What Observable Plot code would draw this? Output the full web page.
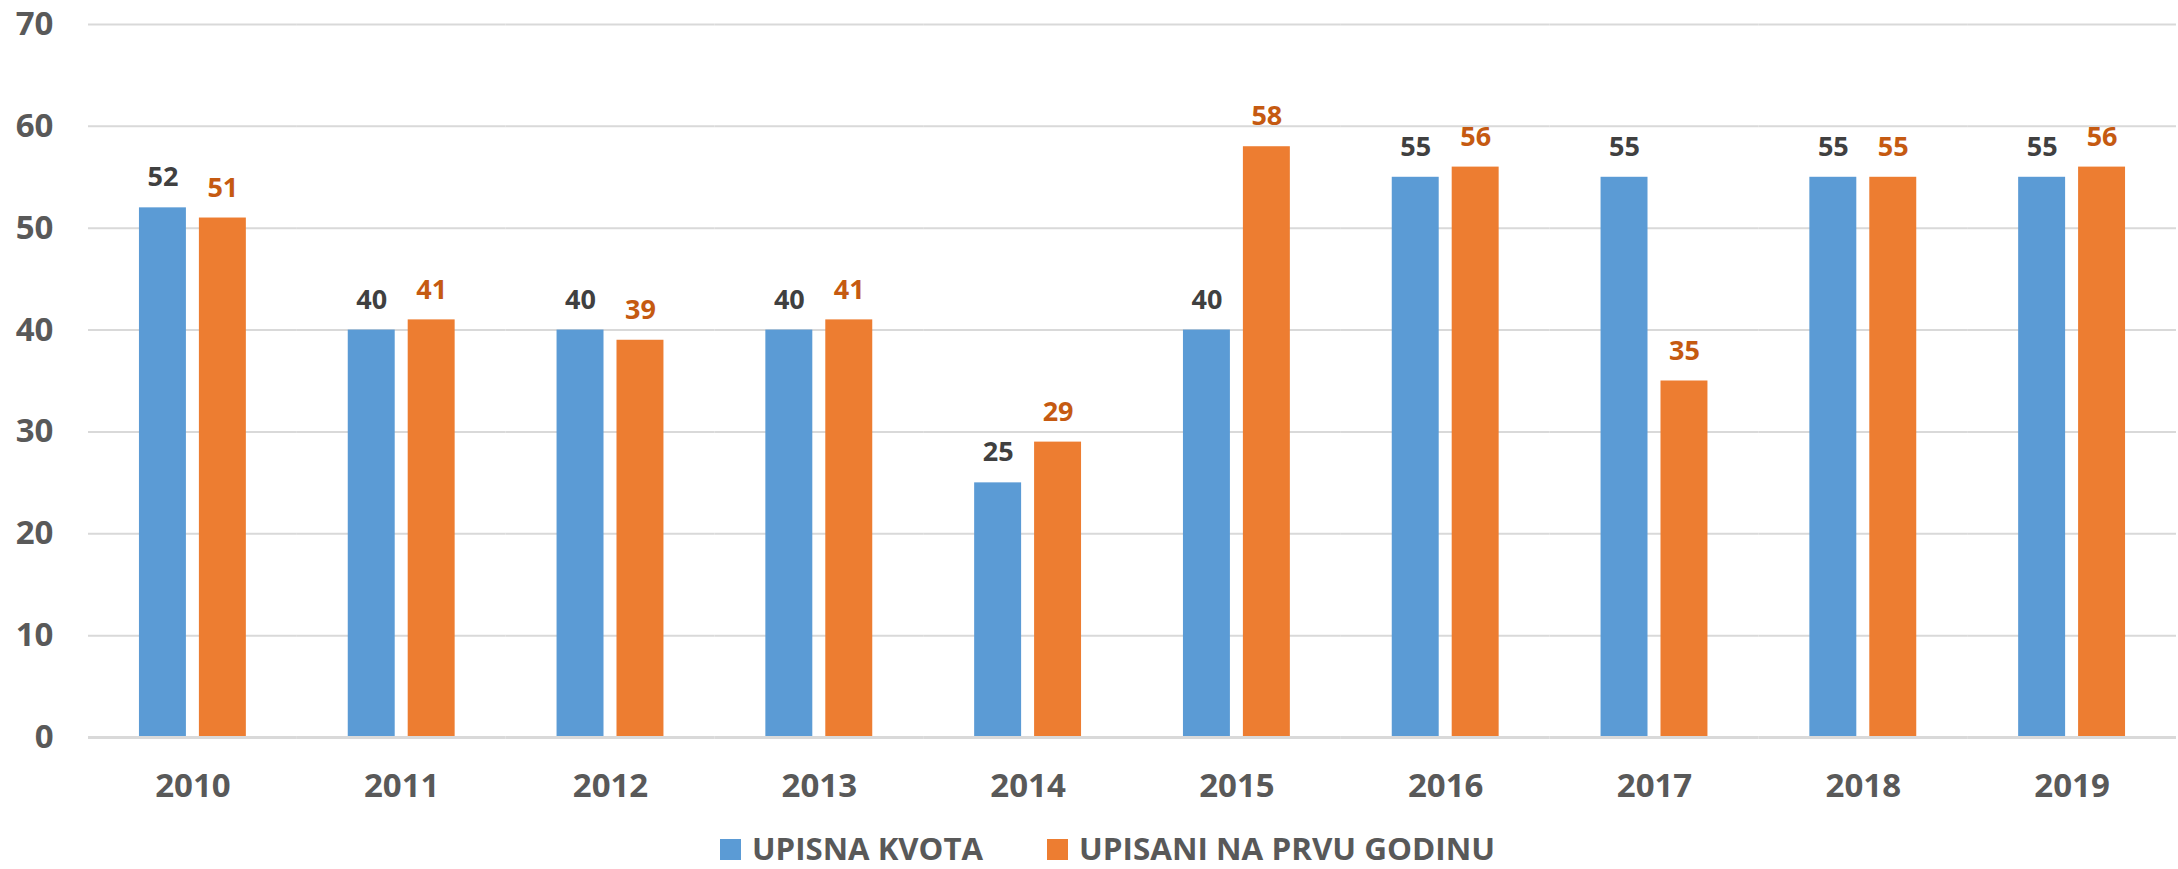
<!DOCTYPE html>
<html>
<head>
<meta charset="utf-8">
<script src="https://cdn.jsdelivr.net/npm/d3@7"></script>
<script src="https://cdn.jsdelivr.net/npm/@observablehq/plot@0.6"></script>
<style>
  html, body { margin: 0; padding: 0; background: #fff; }
  #wrap { position: relative; width: 2178px; height: 869px; overflow: hidden; font-family: "Open Sans", sans-serif; }
  #legend { position: absolute; left: 720px; top: 827px; height: 42px; width: 800px; }
  .item { display: flex; align-items: center; height: 42px; }
  .sw { width: 21px; height: 21px; margin-right: 11px; flex: none; position: relative; top: 1.5px; }
  .lab { font-size: 31px; font-weight: 700; color: #595959; line-height: 28px; height: 28px; display: inline-block; white-space: nowrap; transform-origin: left center; }
</style>
</head>
<body>
<div id="wrap"><div id="chart"></div><div id="legend"></div></div>
<script>
const years = ["2010","2011","2012","2013","2014","2015","2016","2017","2018","2019"];
const series = ["UPISNA KVOTA", "UPISANI NA PRVU GODINU"];
const upisnaKvota = [52, 40, 40, 40, 25, 40, 55, 55, 55, 55];
const upisani = [51, 41, 39, 41, 29, 58, 56, 35, 55, 56];
const barColors = ["#5B9BD5", "#ED7D31"];
const labelColors = ["#404040", "#C55A11"];
const yTicks = [0, 10, 20, 30, 40, 50, 60, 70];

const data = years.flatMap((yr, i) => [
  {year: yr, series: series[0], value: upisnaKvota[i], s: 0},
  {year: yr, series: series[1], value: upisani[i], s: 1}
]);

const chart = Plot.plot({
  width: 2178,
  height: 820,
  marginLeft: 88,
  marginRight: 2,
  marginTop: 24,
  marginBottom: 83,
  style: {fontFamily: "'Open Sans', sans-serif", background: "white", overflow: "visible"},
  fx: {domain: years, padding: 0, label: null, round: false},
  x: {domain: series, axis: null, paddingInner: 0.2167, paddingOuter: 0.85, round: false},
  y: {domain: [0, 70], label: null},
  color: {domain: series, range: barColors},
  marks: [
    Plot.gridY(yTicks.slice(1), {stroke: "#D9D9D9", strokeWidth: 2, strokeOpacity: 1}),
    Plot.axisY(yTicks, {tickSize: 0, tickPadding: 35, fontSize: 33, fontWeight: 700, fill: "#595959", label: null}),
    Plot.axisFx({anchor: "bottom", tickSize: 0, tickPadding: 36, fontSize: 33, fontWeight: 700, fill: "#595959", label: null}),
    Plot.barY(data, {fx: "year", x: "series", y: "value", fill: "series"}),
    Plot.ruleY([0], {stroke: "#D9D9D9", strokeWidth: 3}),
    Plot.text(data, {fx: "year", x: "series", y: "value", text: d => String(d.value), dy: -30,
      fill: d => labelColors[d.s], fontSize: 27, fontWeight: 700})
  ]
});
document.getElementById("chart").appendChild(chart);

const legend = document.getElementById("legend");
const labWidths = [231, 416];
const starts = [720, 1047];
series.forEach((s, i) => {
  const it = document.createElement("div");
  it.className = "item";
  it.style.position = "absolute";
  it.style.top = "0px";
  it.style.left = (starts[i] - 720) + "px";
  it.innerHTML = `<span class="sw" style="background:${barColors[i]}"></span><span class="lab">${s}</span>`;
  legend.appendChild(it);
  const lab = it.querySelector(".lab");
  const w = lab.getBoundingClientRect().width;
  lab.style.transform = `scaleX(${labWidths[i] / w})`;
});
</script>
</body>
</html>
